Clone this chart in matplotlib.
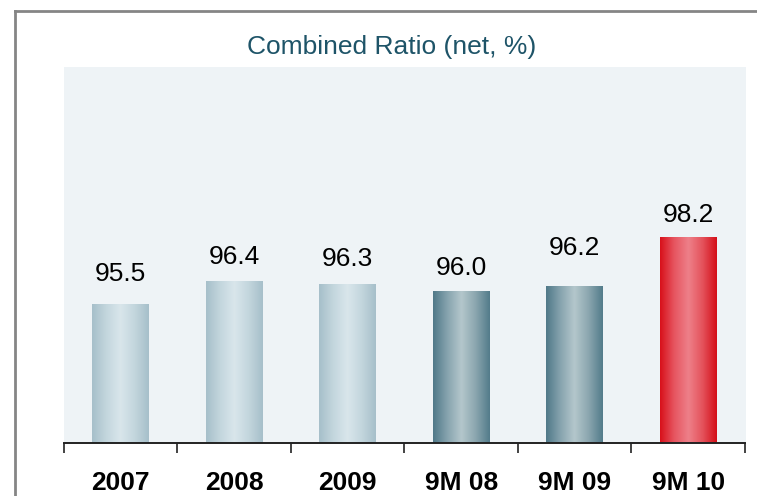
import numpy as np
import matplotlib
matplotlib.use("Agg")
import matplotlib.pyplot as plt
from matplotlib.colors import LinearSegmentedColormap
from matplotlib.lines import Line2D

plt.rcParams['font.family'] = ['Liberation Sans', 'DejaVu Sans']

# data
categories = ['2007', '2008', '2009', '9M 08', '9M 09', '9M 10']
values = [95.5, 96.4, 96.3, 96.0, 96.2, 98.2]
value_labels = ['95.5', '96.4', '96.3', '96.0', '96.2', '98.2']
bar_styles = ['light', 'light', 'light', 'dark', 'dark', 'red']

# gap between bar top and label centre, in points
label_offsets = [22, 18, 18, 17, 28, 16]

gradients = {
    'light': ['#A6BFCA', '#C3D6DD', '#D9E6EB', '#C3D6DD', '#A6BFCA'],
    'dark': ['#4F7888', '#86A3AE', '#B4C7CC', '#8BA6AF', '#527B8A'],
    'red': ['#D8101A', '#E65560', '#EE8089', '#E4525B', '#D40E18'],
}

W, H = 757, 496
fig = plt.figure(figsize=(W / 100, H / 100), dpi=100)
fig.patch.set_facecolor('white')

ax = fig.add_axes([64 / W, (H - 443) / H, 682 / W, 376 / H])
ax.set_facecolor('#EEF3F6')

base = 89.9
x = np.arange(len(categories))
bars = ax.bar(x, np.array(values) - base, bottom=base, width=0.5,
              color='none', edgecolor='none')

# fill each bar with a horizontal gradient
grad = np.linspace(0, 1, 256).reshape(1, -1)
for b, style in zip(bars, bar_styles):
    cmap = LinearSegmentedColormap.from_list(style, gradients[style])
    x0, y0 = b.get_x(), b.get_y()
    ax.imshow(grad, cmap=cmap, aspect='auto', interpolation='bicubic',
              extent=[x0, x0 + b.get_width(), y0, y0 + b.get_height()], zorder=2)

for xi, v, lab, off in zip(x, values, value_labels, label_offsets):
    ax.annotate(lab, (xi, v), xytext=(0, off), textcoords='offset points',
                ha='center', va='center', fontsize=19, color='black')

ax.set_xlim(-0.5, 5.51)
ax.set_ylim(base, base + 376 / 24.8)

for s in ['top', 'right', 'left']:
    ax.spines[s].set_visible(False)
ax.spines['bottom'].set_color('#222222')
ax.spines['bottom'].set_linewidth(1.4)
ax.spines['bottom'].set_bounds(-0.5, 5.5)
ax.set_yticks([])

ax.set_xticks(x)
ax.set_xticklabels(categories, fontsize=19, fontweight='bold')
ax.tick_params(axis='x', which='major', length=0, pad=20)
ax.set_xticks(np.arange(-0.5, 6, 1), minor=True)
ax.tick_params(axis='x', which='minor', length=7, width=1.2, color='#222222')

fig.text(391.5 / W, (H - 47) / H, 'Combined Ratio (net, %)', ha='center',
         va='center', fontsize=19, color='#1E5468')

# frame lines of the slide
fig.add_artist(Line2D([14.5 / W, 1], [(H - 10.5) / H] * 2, color='#858585', lw=2))
fig.add_artist(Line2D([14.5 / W] * 2, [0, (H - 10.5) / H], color='#858585', lw=2))

fig.savefig('out.png', dpi=100)
